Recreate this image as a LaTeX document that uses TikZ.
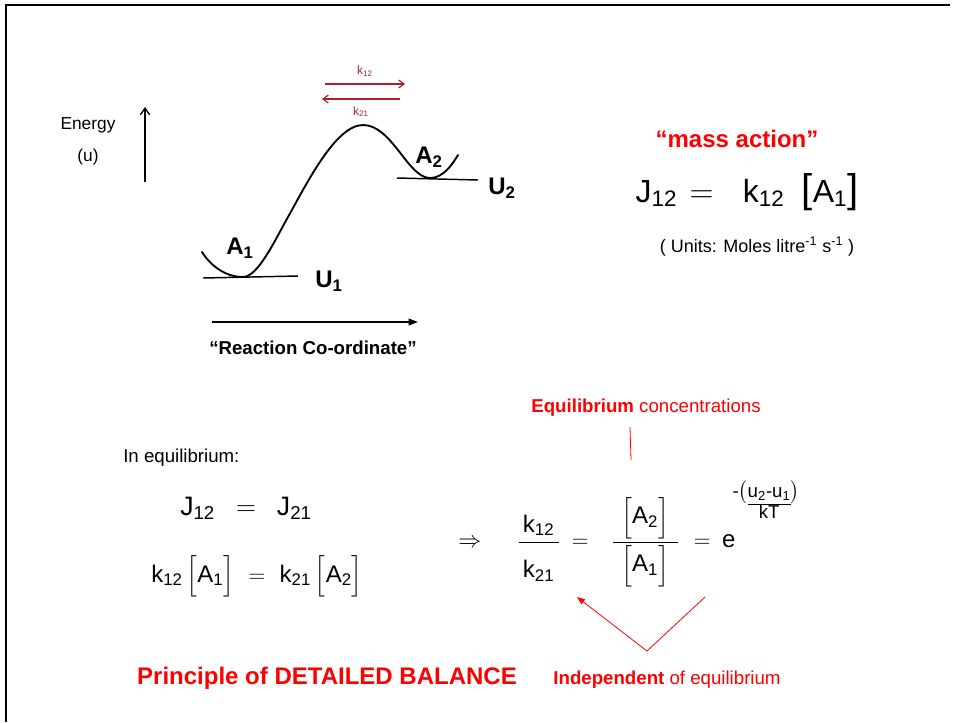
\documentclass[tikz,border=0pt]{standalone}
\usepackage{amsmath}
\usepackage{fontspec}
\setmainfont{Liberation Sans}
\usepackage{xcolor}
\usetikzlibrary{arrows.meta, positioning}

\definecolor{slidered}{RGB}{255,0,0}
\definecolor{inkred}{RGB}{175,30,45}

\begin{document}
\begin{tikzpicture}[x=0.75pt, y=-0.75pt,
    hand/.style={inner sep=0pt, font=\fontsize{20}{24}\selectfont},
    statelbl/.style={inner sep=0pt, font=\fontsize{18}{20}\selectfont\bfseries},
    redtitle/.style={inner sep=0pt, font=\fontsize{18}{20}\selectfont\bfseries, text=slidered},
    rednote/.style={inner sep=0pt, font=\fontsize{14}{16}\selectfont, text=slidered},
    curve/.style={line width=1.4pt, line cap=round},
    level/.style={line width=1.1pt},
    kline/.style={draw=inkred, line width=0.9pt, -{Straight Barb[length=4pt, width=6pt]}},
    redline/.style={draw=slidered, line width=0.6pt},
]
\useasboundingbox (0,0) rectangle (960,722);

% slide frame
\draw[line width=1.5pt] (6,722) -- (6,5) -- (950,5);

% energy profile
\coordinate (en0) at (145,182);
\coordinate (en1) at (145,107);
\draw[line width=1pt, -{Straight Barb[length=5pt, width=7pt]}] (en0) -- (en1);
\node[hand, align=center, font=\fontsize{13}{24}\selectfont] (energy) at (88,141) {Energy\\(u)};

\draw[curve] (202,252) .. controls (210,265) and (225,277) .. (243,277)
    .. controls (258,277) and (275,240) .. (288,217)
    .. controls (305,187) and (335,125) .. (363,125)
    .. controls (392,125) and (408,178) .. (430,178)
    .. controls (443,178) and (452,165) .. (458,155);

\coordinate (lvl1a) at (203,278);
\coordinate (lvl1b) at (298,276);
\coordinate (lvl2a) at (397,178);
\coordinate (lvl2b) at (478,180);
\draw[level] (lvl1a) -- (lvl1b);
\draw[level] (lvl2a) -- (lvl2b);

\node[statelbl] (aone) at (240,248) {A\textsubscript{1}};
\node[statelbl] (uone) at (329,281) {U\textsubscript{1}};
\node[statelbl] (atwo) at (429,157) {A\textsubscript{2}};
\node[statelbl] (utwo) at (502,188) {U\textsubscript{2}};

% rate arrows
\coordinate (kf0) at (325,84);
\coordinate (kf1) at (405,84);
\coordinate (kb0) at (400,99);
\coordinate (kb1) at (322,99);
\draw[kline] (kf0) -- node[above=2pt, text=inkred, font=\fontsize{9}{10}\selectfont] (kfwd) {k$_{\mathrm{12}}$} (kf1);
\draw[kline] (kb0) -- node[below=2pt, text=inkred, font=\fontsize{9}{10}\selectfont] (kbwd) {k$_{\mathrm{21}}$} (kb1);

% reaction coordinate
\coordinate (rc0) at (212,322);
\coordinate (rc1) at (418,322);
\draw[line width=1.1pt, -{Triangle[length=7pt, width=5pt]}] (rc0) -- (rc1);
\node[inner sep=0pt, font=\fontsize{14}{16}\selectfont\bfseries] (rxn) at (313,348) {“Reaction Co-ordinate”};

% mass action
\node[redtitle, anchor=base] (massact) at (737,147) {“mass action”};
\node[hand, anchor=base, font=\fontsize{24}{24}\selectfont] (jrate) at (747,202)
    {$\mathrm{J}_{\mathrm{12}}\kern2.5pt=\kern15pt\mathrm{k}_{\mathrm{12}}\kern13pt
     \text{\fontsize{30}{30}\selectfont[}\mathrm{A}_{\mathrm{1}}\text{\fontsize{30}{30}\selectfont]}$};
\node[inner sep=0pt, anchor=base, font=\fontsize{13.5}{16}\selectfont] (units) at (757,252)
    {( Units: Moles litre\textsuperscript{-1} s\textsuperscript{-1} )};

% equilibrium
\node[inner sep=0pt, anchor=base west, font=\fontsize{14}{16}\selectfont] (ineq) at (123,462) {In equilibrium:};
\node[hand, anchor=base] (jeq) at (246,515)
    {$\mathrm{J}_{\mathrm{12}}\kern10pt=\kern10pt\mathrm{J}_{\mathrm{21}}$};
\node[hand, anchor=base, font=\fontsize{18}{22}\selectfont] (keq) at (257,582)
    {$\mathrm{k}_{\mathrm{12}}\,\Bigl[\mathrm{A}_{\mathrm{1}}\Bigr]\kern6pt=\kern6pt\mathrm{k}_{\mathrm{21}}\,\Bigl[\mathrm{A}_{\mathrm{2}}\Bigr]$};

\node[hand, anchor=west, font=\fontsize{18}{22}\selectfont] (ratio) at (458,542)
    {$\Rightarrow\kern22pt
     \dfrac{\makebox[30pt]{$\mathrm{k}_{\mathrm{12}}$}}{\rule{0pt}{24pt}\mathrm{k}_{\mathrm{21}}}
     \kern4pt=\kern12pt
     \dfrac{\makebox[49pt]{$\Bigl[\mathrm{A}_{\mathrm{2}}\Bigr]$}}{\Bigl[\mathrm{A}_{\mathrm{1}}\Bigr]}
     \kern6pt=\kern4pt\mathrm{e}$};
\node[hand, font=\fontsize{14}{16}\selectfont] (expo) at (766,503)
    {$\begin{array}{@{}r@{}c@{}l@{}}\text{-}\bigl( & \mathrm{u}_{\mathrm{2}}\text{-}\mathrm{u}_{\mathrm{1}} & \bigr)\\ \cline{2-2} & \mathrm{kT} & \end{array}$};

% labels in red
\node[rednote, anchor=base] (eqconc) at (646,412) {\textbf{Equilibrium} concentrations};
\coordinate (conctop) at (630,427);
\coordinate (concbot) at (631,460);
\draw[redline] (conctop) -- (concbot);

\coordinate (vtip) at (647,651);
\coordinate (vleft) at (577,597);
\coordinate (vright) at (705,597);
\draw[redline, -{Triangle[length=6pt, width=4.5pt]}] (vtip) -- (vleft);
\draw[redline] (vtip) -- (vright);

\node[redtitle] (detbal) at (327,678) {Principle of DETAILED BALANCE};
\node[rednote] (indep) at (667,680) {\textbf{Independent} of equilibrium};

\end{tikzpicture}
\end{document}
